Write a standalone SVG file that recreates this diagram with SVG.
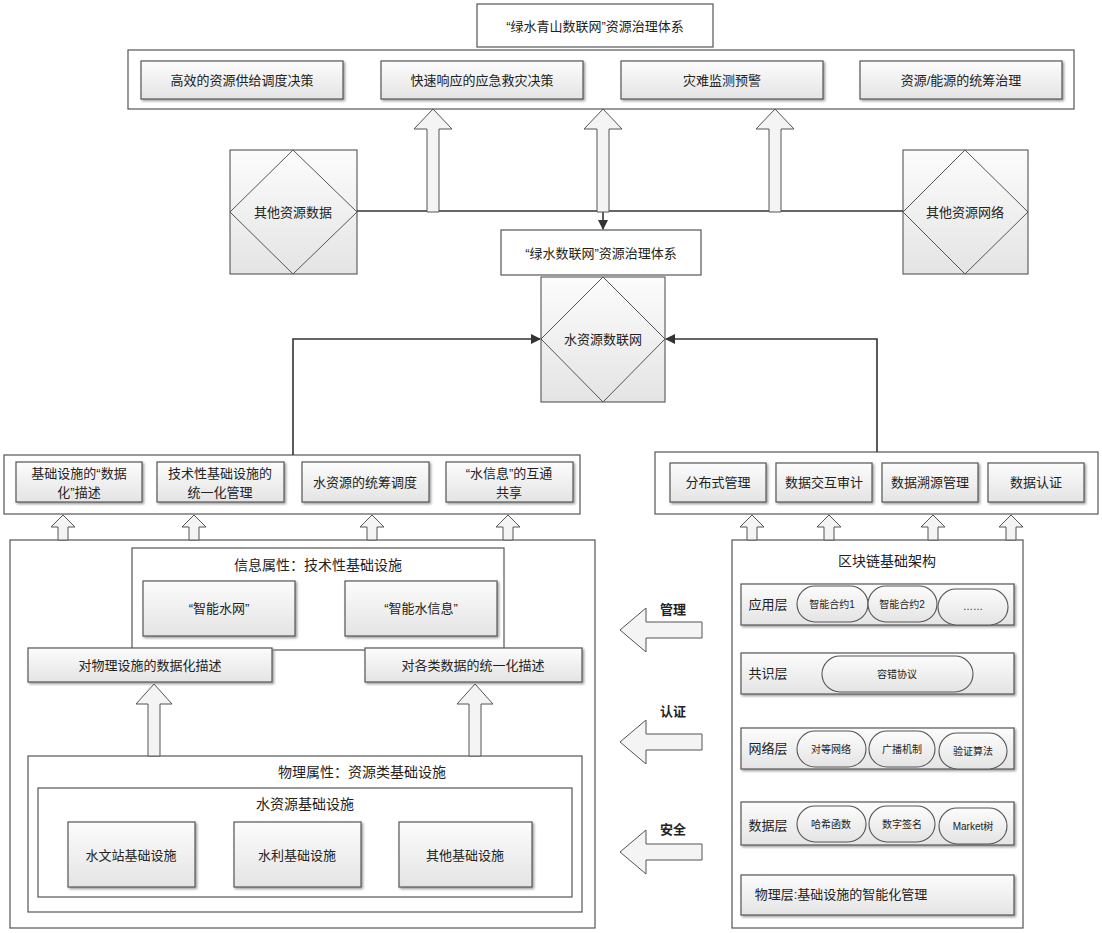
<svg xmlns="http://www.w3.org/2000/svg" width="1102" height="933" viewBox="0 0 1102 933">
<style>
text{font-family:"Liberation Sans","Noto Sans CJK SC",sans-serif;fill:#222;text-anchor:middle;dominant-baseline:central}
.f{font-size:13px}.s{font-size:10px}.l{font-size:14px}
.o{fill:#fff;stroke:#555;stroke-width:1.2}
.g{fill:url(#gr);stroke:#555;stroke-width:1.2;filter:url(#sh)}
.p{fill:url(#gr);stroke:#555;stroke-width:1.1}
.ha{fill:#f4f4f4;stroke:#555;stroke-width:1}
.ln{fill:none;stroke:#333;stroke-width:1.6}
</style>
<defs>
<linearGradient id="gr" x1="0" y1="0" x2="0" y2="1"><stop offset="0" stop-color="#fcfcfc"/><stop offset="1" stop-color="#e4e4e4"/></linearGradient>
<filter id="sh"><feDropShadow dx="1.5" dy="1.5" stdDeviation="0.8" flood-color="#999"/></filter>
<marker id="ar" markerWidth="10" markerHeight="10" refX="9" refY="5" orient="auto" markerUnits="userSpaceOnUse"><path d="M0,0L10,5L0,10z" fill="#333"/></marker>
</defs>
<text x="673" y="609" class="f" font-weight="bold">管理</text>
<text x="673" y="711" class="f" font-weight="bold">认证</text>
<text x="673" y="829" class="f" font-weight="bold">安全</text>
<g id="title"><rect class="o" x="477" y="4" width="236" height="43"/><text x="595" y="26" class="f">“绿水青山数联网”资源治理体系</text></g>
<g id="top"><rect class="o" x="128" y="50" width="946" height="59"/>
<rect class="g" x="141" y="61" width="202" height="38"/><text x="242" y="80" class="f">高效的资源供给调度决策</text>
<rect class="g" x="381" y="61" width="202" height="38"/><text x="482" y="80" class="f">快速响应的应急救灾决策</text>
<rect class="g" x="621" y="61" width="202" height="38"/><text x="722" y="80" class="f">灾难监测预警</text>
<rect class="g" x="860" y="61" width="202" height="38"/><text x="961" y="80" class="f">资源/能源的统筹治理</text></g>
<g id="otherdata"><rect class="p" x="230" y="150" width="127" height="124"/><path d="M293,150L357,212L293,274L230,212Z" fill="none" stroke="#555"/><text x="293" y="212" class="f">其他资源数据</text></g>
<g id="othernet"><rect class="p" x="903" y="150" width="125" height="124"/><path d="M965,150L1028,212L965,274L903,212Z" fill="none" stroke="#555"/><text x="965" y="212" class="f">其他资源网络</text></g>
<g id="green"><rect class="o" x="501" y="230" width="200" height="45"/><text x="601" y="253" class="f">“绿水数联网”资源治理体系</text></g>
<g id="water"><rect class="p" x="541" y="277" width="124" height="125"/><path d="M603,277L665,339L603,402L541,339Z" fill="none" stroke="#555"/><text x="603" y="339" class="f">水资源数联网</text></g>
<g id="leftmid"><rect class="o" x="4" y="455" width="576" height="59"/>
<rect class="g" x="16" y="462" width="126" height="40"/><text x="79" y="473" class="f">基础设施的“数据</text><text x="79" y="492" class="f">化”描述</text>
<rect class="g" x="157" y="462" width="127" height="40"/><text x="220" y="473" class="f">技术性基础设施的</text><text x="220" y="492" class="f">统一化管理</text>
<rect class="g" x="302" y="462" width="127" height="40"/><text x="365" y="482" class="f">水资源的统筹调度</text>
<rect class="g" x="446" y="462" width="127" height="40"/><text x="509" y="473" class="f">“水信息”的互通</text><text x="509" y="492" class="f">共享</text></g>
<g id="rightmid"><rect class="o" x="655" y="452" width="443" height="62"/>
<rect class="g" x="670" y="463" width="96" height="39"/><text x="718" y="482" class="f">分布式管理</text>
<rect class="g" x="776" y="463" width="96" height="39"/><text x="824" y="482" class="f">数据交互审计</text>
<rect class="g" x="882" y="463" width="96" height="39"/><text x="930" y="482" class="f">数据溯源管理</text>
<rect class="g" x="988" y="463" width="96" height="39"/><text x="1036" y="482" class="f">数据认证</text></g>
<g id="leftbig"><rect class="o" x="10" y="540" width="585" height="388"/>
<rect class="o" x="132" y="548" width="372" height="102"/><text x="318" y="565" class="l">信息属性：技术性基础设施</text>
<rect class="g" x="143" y="581" width="152" height="55"/><text x="219" y="608" class="f">“智能水网”</text>
<rect class="g" x="345" y="581" width="152" height="55"/><text x="421" y="608" class="f">“智能水信息”</text>
<rect class="g" x="28" y="648" width="244" height="34"/><text x="150" y="665" class="f">对物理设施的数据化描述</text>
<rect class="g" x="365" y="648" width="217" height="34"/><text x="473" y="665" class="f">对各类数据的统一化描述</text>
<rect class="o" x="28" y="756" width="554" height="156"/><text x="362" y="772" class="l">物理属性：资源类基础设施</text>
<rect class="o" x="38" y="788" width="534" height="109"/><text x="305" y="804" class="l">水资源基础设施</text>
<rect class="g" x="68" y="822" width="127" height="65"/><text x="131" y="855" class="f">水文站基础设施</text>
<rect class="g" x="234" y="822" width="127" height="65"/><text x="297" y="855" class="f">水利基础设施</text>
<rect class="g" x="399" y="822" width="133" height="65"/><text x="465" y="855" class="f">其他基础设施</text></g>
<g id="blockchain"><rect class="o" x="732" y="540" width="291" height="388"/><text x="887" y="561" class="l">区块链基础架构</text>
<rect class="g" x="741" y="584" width="273" height="41"/><text x="768" y="604" class="f">应用层</text>
<rect class="p" x="797" y="586" width="71" height="36" rx="18"/><text x="832" y="604" class="s">智能合约1</text>
<rect class="p" x="868" y="586" width="69" height="36" rx="18"/><text x="902" y="604" class="s">智能合约2</text>
<rect class="p" x="938" y="589" width="70" height="36" rx="18"/><text x="973" y="606" class="s">……</text>
<rect class="g" x="741" y="653" width="273" height="41"/><text x="768" y="673" class="f">共识层</text>
<rect class="p" x="822" y="656" width="151" height="36" rx="18"/><text x="897" y="674" class="s">容错协议</text>
<rect class="g" x="741" y="728" width="273" height="41"/><text x="768" y="748" class="f">网络层</text>
<rect class="p" x="797" y="731" width="69" height="36" rx="18"/><text x="831" y="749" class="s">对等网络</text>
<rect class="p" x="869" y="731" width="66" height="36" rx="18"/><text x="902" y="749" class="s">广播机制</text>
<rect class="p" x="939" y="733" width="68" height="36" rx="18"/><text x="973" y="751" class="s">验证算法</text>
<rect class="g" x="741" y="802" width="273" height="43"/><text x="768" y="825" class="f">数据层</text>
<rect class="p" x="797" y="806" width="69" height="36" rx="18"/><text x="831" y="824" class="s">哈希函数</text>
<rect class="p" x="869" y="806" width="66" height="36" rx="18"/><text x="902" y="824" class="s">数字签名</text>
<rect class="p" x="939" y="808" width="68" height="36" rx="18"/><text x="973" y="826" class="s">Market树</text>
<rect class="g" x="741" y="875" width="273" height="40"/><text x="841" y="894" class="f">物理层:基础设施的智能化管理</text></g>
<g id="connectors">
<path class="ln" d="M357,211H903"/>
<path class="ln" d="M603,211V229" marker-end="url(#ar)"/>
<path class="ln" d="M293,455V339H540" marker-end="url(#ar)"/>
<path class="ln" d="M877,452V339H666" marker-end="url(#ar)"/>
<path class="ha" d="M427,212V129H414L433,109L452,129H439V212Z"/>
<path class="ha" d="M597,212V129H584L603,109L622,129H609V212Z"/>
<path class="ha" d="M769,212V129H756L775,109L794,129H781V212Z"/>
<path class="ha" d="M58,540V527H51L63,515L75,527H68V540Z"/>
<path class="ha" d="M189,540V527H182L194,515L206,527H199V540Z"/>
<path class="ha" d="M367,540V527H360L372,515L384,527H377V540Z"/>
<path class="ha" d="M503,540V527H496L508,515L520,527H513V540Z"/>
<path class="ha" d="M747,540V527H740L752,515L764,527H757V540Z"/>
<path class="ha" d="M824,540V527H817L829,515L841,527H834V540Z"/>
<path class="ha" d="M928,540V527H921L933,515L945,527H938V540Z"/>
<path class="ha" d="M1006,540V527H999L1011,515L1023,527H1016V540Z"/>
<path class="ha" d="M148,756V704H136L154,684L172,704H160V756Z"/>
<path class="ha" d="M469,756V704H457L475,684L493,704H481V756Z"/>
<path class="ha" d="M702,622H646V608L620,630L646,652V638H702Z"/>
<path class="ha" d="M702,734H646V720L620,742L646,764V750H702Z"/>
<path class="ha" d="M702,844H646V830L620,852L646,874V860H702Z"/>
</g>
</svg>
